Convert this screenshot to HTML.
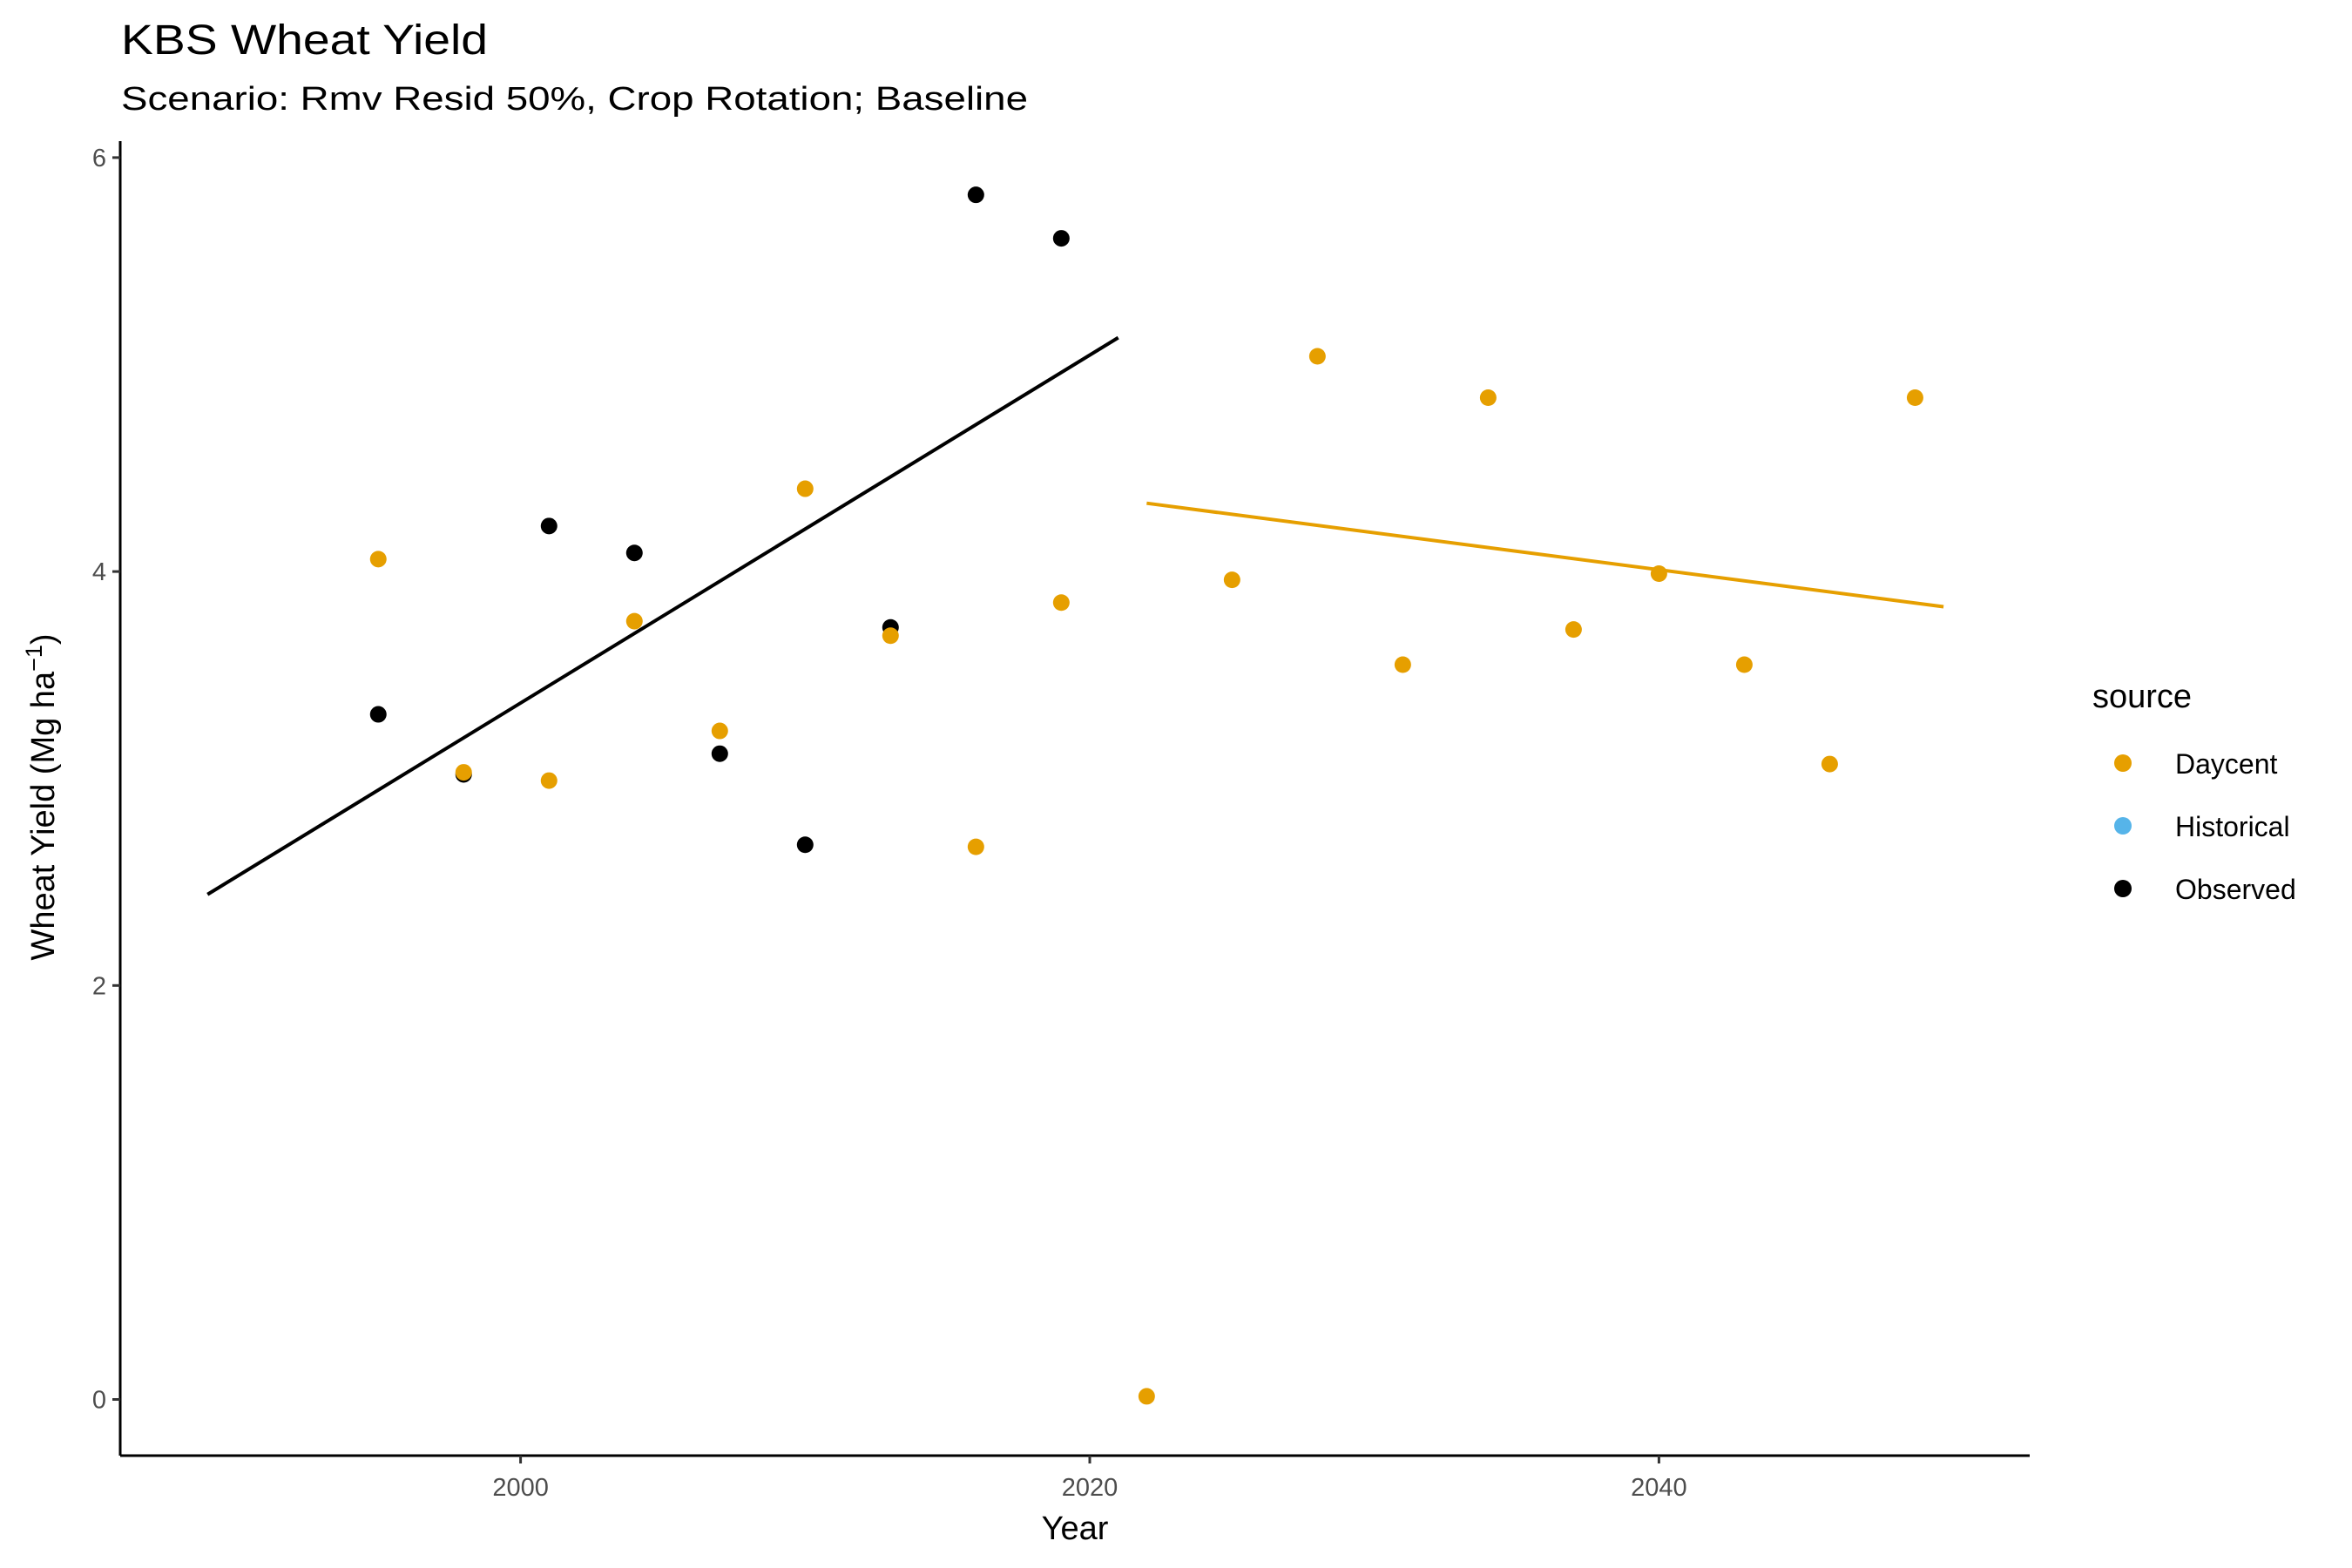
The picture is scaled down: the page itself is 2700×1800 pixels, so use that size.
<!DOCTYPE html>
<html><head><meta charset="utf-8"><style>
html,body{margin:0;padding:0;background:#fff;}
svg{display:block;font-family:"Liberation Sans",Arial,sans-serif;}
</style></head><body>
<svg id="chart" width="2700" height="1800" viewBox="0 0 2700 1800" xmlns="http://www.w3.org/2000/svg">
<rect width="2700" height="1800" fill="#fff"/>
<text x="139" y="62" font-size="48" fill="#000" textLength="421" lengthAdjust="spacingAndGlyphs">KBS Wheat Yield</text>
<text x="139" y="126" font-size="38" fill="#000" textLength="1041" lengthAdjust="spacingAndGlyphs">Scenario: Rmv Resid 50%, Crop Rotation; Baseline</text>
<g id="axes"></g>
<g id="marks"></g>
<text x="1234" y="1767" font-size="38" text-anchor="middle" fill="#000">Year</text>
<text transform="translate(62,915) rotate(-90)" font-size="38" text-anchor="middle" fill="#000">Wheat Yield (Mg ha<tspan dy="-14" font-size="27">−1</tspan><tspan dy="14">)</tspan></text>
<g>
<text x="2402" y="812" font-size="38" fill="#000">source</text>
<circle cx="2437" cy="876" r="10" fill="#E69F00"/>
<text x="2497" y="888" font-size="32" fill="#000">Daycent</text>
<circle cx="2437" cy="948" r="10" fill="#56B4E9"/>
<text x="2497" y="960" font-size="32" fill="#000">Historical</text>
<circle cx="2437" cy="1020" r="10" fill="#000"/>
<text x="2497" y="1032" font-size="32" fill="#000">Observed</text>
</g>
</svg>
<script>
const daycentYears = [1995,1998,2001,2004,2007,2010,2013,2016,2019,2022,2025,2028,2031,2034,2037,2040,2043,2046,2049];
const daycentYield = [4.06,3.03,2.99,3.76,3.23,4.40,3.69,2.67,3.85,0.015,3.96,5.04,3.55,4.84,3.72,3.99,3.55,3.07,4.84];
const observedYears = [1995,1998,2001,2004,2007,2010,2013,2016,2019];
const observedYield = [3.31,3.02,4.22,4.09,3.12,2.68,3.73,5.82,5.61];
const observedTrendYears = [1989,2021];
const observedTrendYield = [2.44,5.13];
const daycentTrendYears = [2022,2050];
const daycentTrendYield = [4.33,3.83];
const xTicks = [2000,2020,2040];
const yTicks = [0,2,4,6];

const NS='http://www.w3.org/2000/svg';
function xs(yr){return 597.6+(yr-2000)*32.67;}
function ys(v){return 1606.5-237.6*v;}
function mk(tag,attrs,parent){const e=document.createElementNS(NS,tag);for(const k in attrs)e.setAttribute(k,attrs[k]);parent.appendChild(e);return e;}
const axes=document.getElementById('axes'), marks=document.getElementById('marks');
let l=mk('line',{x1:138,y1:162,x2:138,y2:1671,stroke:'#000','stroke-width':3},axes);


l=mk('line',{x1:138,y1:1671,x2:2330,y2:1671,stroke:'#000','stroke-width':3},axes);


yTicks.forEach(t=>{
  const tk=mk('line',{x1:129,y1:ys(t),x2:138,y2:ys(t),stroke:'#333','stroke-width':3},axes);
  
  
  const tx=mk('text',{x:122,y:ys(t)+10,'font-size':29,'text-anchor':'end',fill:'#4d4d4d'},axes);
  tx.textContent=t;
  
  
});
xTicks.forEach(t=>{
  const tk=mk('line',{x1:xs(t),y1:1671,x2:xs(t),y2:1680,stroke:'#333','stroke-width':3},axes);
  
  
  const tx=mk('text',{x:xs(t),y:1717,'font-size':29,'text-anchor':'middle',fill:'#4d4d4d'},axes);
  tx.textContent=t;
  
  
});
let tl=mk('line',{x1:xs(observedTrendYears[0]),y1:ys(observedTrendYield[0]),x2:xs(observedTrendYears[1]),y2:ys(observedTrendYield[1]),stroke:'#000','stroke-width':4},marks);


tl=mk('line',{x1:xs(daycentTrendYears[0]),y1:ys(daycentTrendYield[0]),x2:xs(daycentTrendYears[1]),y2:ys(daycentTrendYield[1]),stroke:'#E69F00','stroke-width':4},marks);


observedYears.forEach((yr,i)=>{
  const c=mk('circle',{cx:xs(yr),cy:ys(observedYield[i]),r:9.5,fill:'#000'},marks);
  
  
});
daycentYears.forEach((yr,i)=>{
  const c=mk('circle',{cx:xs(yr),cy:ys(daycentYield[i]),r:9.5,fill:'#E69F00'},marks);
  
  
});
</script>
</body></html>
